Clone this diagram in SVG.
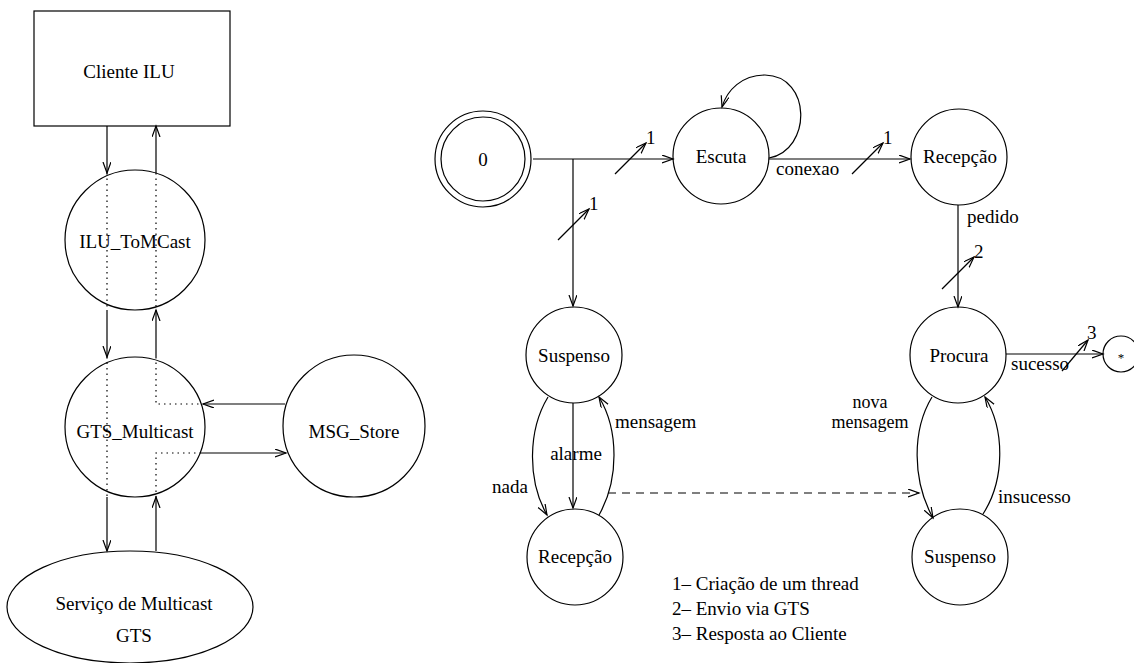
<svg xmlns="http://www.w3.org/2000/svg" width="1134" height="663" viewBox="0 0 1134 663" font-family="'Liberation Serif', 'DejaVu Serif', serif">
  <style>
    .shape { fill: none; stroke: #000; stroke-width: 1.2; }
    .edge { fill: none; stroke: #000; stroke-width: 1.2; }
    .dot { fill: none; stroke: #000; stroke-width: 1.2; stroke-dasharray: 1.5 4; }
    .dash { fill: none; stroke: #000; stroke-width: 1.2; stroke-dasharray: 8 6; }
    text { font-family: 'Liberation Serif', 'DejaVu Serif', serif; font-size: 19px; fill: #000; }
    .c { text-anchor: middle; }
    .tight { font-size: 18px; }
  </style>
  <defs>
    <marker id="arr" markerUnits="userSpaceOnUse" markerWidth="14" markerHeight="10" refX="11" refY="4" orient="auto">
      <path d="M0,0 L11,4 L0,8" fill="none" stroke="#000" stroke-width="1.2"/>
    </marker>
  </defs>

  <!-- architecture: left side -->
  <g id="cliente-ilu">
    <rect class="shape" x="34" y="11" width="196" height="115"/>
    <text class="c" x="129" y="78">Cliente ILU</text>
  </g>
  <g id="ilu-tomcast">
    <circle class="shape" cx="135" cy="240" r="70"/>
    <text class="c" x="135" y="248">ILU_ToMCast</text>
  </g>
  <g id="gts-multicast">
    <circle class="shape" cx="135" cy="427" r="70"/>
    <text class="c" x="135" y="438">GTS_Multicast</text>
  </g>
  <g id="msg-store">
    <circle class="shape" cx="354" cy="426" r="71"/>
    <text class="c" x="354" y="438">MSG_Store</text>
  </g>
  <g id="servico-multicast">
    <ellipse class="shape" cx="130" cy="607" rx="123" ry="56"/>
    <text class="c" x="134" y="610">Serviço de Multicast</text>
    <text class="c" x="134" y="642">GTS</text>
  </g>

  <!-- architecture: connectors -->
  <g id="arch-connectors">
    <line class="edge" x1="107" y1="126" x2="107" y2="173" marker-end="url(#arr)"/>
    <line class="edge" x1="156" y1="173" x2="156" y2="126" marker-end="url(#arr)"/>
    <line class="edge" x1="107" y1="310" x2="107" y2="357" marker-end="url(#arr)"/>
    <line class="edge" x1="156" y1="357" x2="156" y2="310" marker-end="url(#arr)"/>
    <line class="edge" x1="107" y1="497" x2="107" y2="551" marker-end="url(#arr)"/>
    <line class="edge" x1="156" y1="551" x2="156" y2="497" marker-end="url(#arr)"/>
    <line class="edge" x1="285" y1="404" x2="203" y2="404" marker-end="url(#arr)"/>
    <line class="edge" x1="201" y1="453" x2="286" y2="453" marker-end="url(#arr)"/>
    <!-- internal paths through the circles -->
    <line class="dot" x1="107" y1="173" x2="107" y2="310"/>
    <line class="dot" x1="156" y1="173" x2="156" y2="310"/>
    <line class="dot" x1="107" y1="357" x2="107" y2="497"/>
    <polyline class="dot" points="156,357 156,404 201,404"/>
    <polyline class="dot" points="201,453 156,453 156,497"/>
  </g>

  <!-- state machine -->
  <g id="state-0">
    <circle class="shape" cx="483" cy="159" r="48"/>
    <circle class="shape" cx="483" cy="159" r="42"/>
    <text class="c" x="483" y="166">0</text>
  </g>
  <g id="state-escuta">
    <circle class="shape" cx="721" cy="156" r="48"/>
    <text class="c" x="721" y="163">Escuta</text>
  </g>
  <g id="state-recepcao-top">
    <circle class="shape" cx="959" cy="157" r="48"/>
    <text class="c" x="960" y="163">Recepção</text>
  </g>
  <g id="state-procura">
    <circle class="shape" cx="958" cy="355" r="48"/>
    <text class="c" x="959" y="362">Procura</text>
  </g>
  <g id="state-final">
    <circle class="shape" cx="1121" cy="354" r="18"/>
    <text class="c" x="1121" y="362" style="font-size:13px">*</text>
  </g>
  <g id="state-suspenso-left">
    <circle class="shape" cx="574" cy="355" r="48"/>
    <text class="c" x="574" y="362">Suspenso</text>
  </g>
  <g id="state-recepcao-left">
    <circle class="shape" cx="575" cy="557" r="48"/>
    <text class="c" x="575" y="563">Recepção</text>
  </g>
  <g id="state-suspenso-right">
    <circle class="shape" cx="960" cy="557" r="48"/>
    <text class="c" x="960" y="563">Suspenso</text>
  </g>

  <g id="transitions">
    <!-- 0 to Escuta and Suspenso -->
    <line class="edge" x1="533" y1="159" x2="673" y2="159" marker-end="url(#arr)"/>
    <line class="edge" x1="573" y1="159" x2="573" y2="306" marker-end="url(#arr)"/>
    <line class="edge" x1="615" y1="174" x2="646" y2="143" marker-end="url(#arr)"/>
    <text x="646" y="144">1</text>
    <line class="edge" x1="558" y1="240" x2="589" y2="209" marker-end="url(#arr)"/>
    <text x="589" y="210">1</text>

    <!-- Escuta self loop -->
    <path class="edge" d="M769,158 C812,150 812,76 765,75 C742,75 727,90 722,107" marker-end="url(#arr)"/>

    <!-- Escuta to Recepção -->
    <line class="edge" x1="769" y1="159" x2="910" y2="159" marker-end="url(#arr)"/>
    <line class="edge" x1="852" y1="174" x2="883" y2="143" marker-end="url(#arr)"/>
    <text x="883" y="144">1</text>
    <text x="776" y="175">conexao</text>

    <!-- Recepção to Procura -->
    <line class="edge" x1="958" y1="205" x2="958" y2="307" marker-end="url(#arr)"/>
    <text x="967" y="223">pedido</text>
    <line class="edge" x1="942" y1="289" x2="974" y2="257" marker-end="url(#arr)"/>
    <text x="974" y="258">2</text>

    <!-- Procura to final -->
    <line class="edge" x1="1006" y1="354" x2="1103" y2="354" marker-end="url(#arr)"/>
    <line class="edge" x1="1062" y1="371" x2="1088" y2="340" marker-end="url(#arr)"/>
    <text x="1087" y="339">3</text>
    <text x="1011" y="370">sucesso</text>

    <!-- Procura / Suspenso loop -->
    <path class="edge" d="M932,397 C912,430 912,480 933,518" marker-end="url(#arr)"/>
    <path class="edge" d="M983,514 C1005,480 1005,430 985,397" marker-end="url(#arr)"/>
    <text class="c tight" x="870" y="408">nova</text>
    <text class="c tight" x="870" y="428">mensagem</text>
    <text x="998" y="503">insucesso</text>

    <!-- Suspenso / Recepção loop -->
    <line class="edge" x1="573" y1="403" x2="573" y2="508" marker-end="url(#arr)"/>
    <text class="c" x="576" y="460">alarme</text>
    <path class="edge" d="M548,397 C528,430 527,480 547,515" marker-end="url(#arr)"/>
    <text x="492" y="493">nada</text>
    <path class="edge" d="M599,515 C619,480 619,430 599,397" marker-end="url(#arr)"/>
    <text x="615" y="428">mensagem</text>

    <!-- dashed link between the two threads -->
    <line class="dash" x1="608" y1="493" x2="919" y2="493" marker-end="url(#arr)"/>
  </g>

  <g id="legend">
    <text x="672" y="590">1– Criação de um thread</text>
    <text x="672" y="615">2– Envio via GTS</text>
    <text x="672" y="640">3– Resposta ao Cliente</text>
  </g>
</svg>
